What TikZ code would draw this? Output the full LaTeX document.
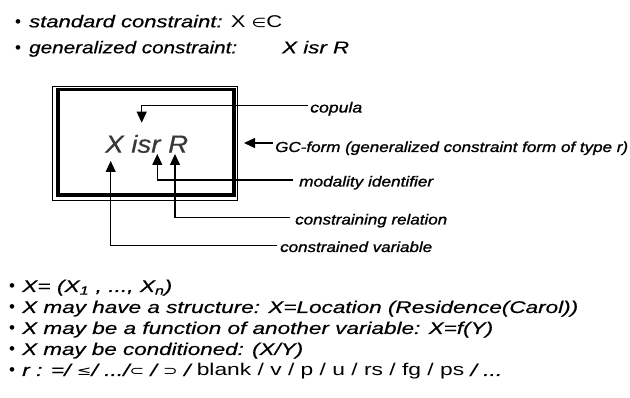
\documentclass[tikz,border=0pt]{standalone}
\usepackage{fontspec}
\setmainfont{Liberation Sans}[ItalicFeatures={FakeBold=0.4}]
\newfontfamily\lblfont{Liberation Sans}[ItalicFeatures={FakeBold=1.0}]
\newfontfamily\dejavu{DejaVu Sans}
\usepackage{graphicx}
\usetikzlibrary{arrows.meta}
\newcommand\fitw[2]{\resizebox{#1}{\height}{#2}}
\newcommand\sym[1]{{\dejavu\fontsize{13}{13}\selectfont #1}}
\begin{document}
\begin{tikzpicture}[x=1pt,y=-1pt,
  txt/.style={inner sep=0pt,anchor=base west,font=\fontsize{17}{17}\selectfont\itshape},
  lbl/.style={inner sep=0pt,anchor=base west,font=\lblfont\fontsize{14.5}{14.5}\selectfont\itshape},
  bigtxt/.style={inner sep=0pt,anchor=base west,text=black!78,font=\fontsize{24.7}{24.7}\selectfont\itshape},
  bul/.style={inner sep=0pt,anchor=base,font=\fontsize{17}{17}\selectfont},
  conn/.style={line width=1.1pt,-{Triangle[length=11pt,width=10pt]}},
  thinframe/.style={line width=0.9pt},
  thickframe/.style={line width=3.2pt}]
\useasboundingbox (0,0) rectangle (630,398);
\fill[white] (0,0) rectangle (630,398);

% top bullets
\node[bul] (bu1) at (18,27.3) {\textbullet};
\node[txt] (t1) at (29,27.3) {\fitw{253pt}{standard constraint: {\upshape X \sym{∈}C}}};
\node[bul] (bu2) at (18,53.3) {\textbullet};
\node[txt] (t2a) at (29,53.3) {\fitw{208pt}{generalized constraint:}};
\node[txt] (t2b) at (282,53.3) {\fitw{67pt}{X isr R}};

% box
\draw[thinframe] (52,86) rectangle (237.5,200);
\draw[thickframe] (58,89.5) rectangle (234,195);
\node[bigtxt] (gc) at (105,152.7) {\fitw{83pt}{X isr R}};

% labels
\node[lbl] (lcop) at (310,112.5) {\fitw{52pt}{copula}};
\node[lbl] (lgc) at (275,152) {\fitw{353pt}{GC-form (generalized constraint form of type r)}};
\node[lbl] (lmod) at (299,186.5) {\fitw{134pt}{modality identifier}};
\node[lbl] (lrel) at (295,224.5) {\fitw{152pt}{constraining relation}};
\node[lbl] (lvar) at (280,252) {\fitw{152pt}{constrained variable}};

% connector coordinates
\coordinate (cops) at (308,105.7);
\coordinate (copt) at (141.7,122.7);
\coordinate (gcs) at (273,143);
\coordinate (gct) at (244,143);
\coordinate (mods) at (293,180);
\coordinate (modt) at (157.3,154);
\coordinate (rels) at (290,217.5);
\coordinate (relt) at (175,154);
\coordinate (vars) at (277,245.7);
\coordinate (vart) at (110.7,161);

\draw[conn] (cops) -| (copt);
\draw[conn] (gcs) -- (gct);
\draw[conn] (mods) -| (modt);
\draw[conn] (rels) -| (relt);
\draw[conn] (vars) -| (vart);

% bottom bullets
\node[bul] (bb1) at (12,292) {\textbullet};
\node[txt] (b1) at (22,292) {\fitw{150pt}{X= (X\textsubscript{1} , ..., X\textsubscript{n})}};
\node[bul] (bb2) at (12,313) {\textbullet};
\node[txt] (b2) at (22,313) {\fitw{556pt}{X may have a structure: X=Location (Residence(Carol))}};
\node[bul] (bb3) at (12,334) {\textbullet};
\node[txt] (b3) at (22,334) {\fitw{471pt}{X may be a function of another variable: X=f(Y)}};
\node[bul] (bb4) at (12,355) {\textbullet};
\node[txt] (b4) at (22,355) {\fitw{281pt}{X may be conditioned: (X/Y)}};
\node[bul] (bb5) at (12,376) {\textbullet};
\node[txt] (b5) at (22,376) {\fitw{480pt}{r : =/ \sym{≤}/ .../\sym{⊂} / \sym{⊃} / {\upshape blank / v / p / u / rs / fg / ps} / ...}};
\end{tikzpicture}
\end{document}
